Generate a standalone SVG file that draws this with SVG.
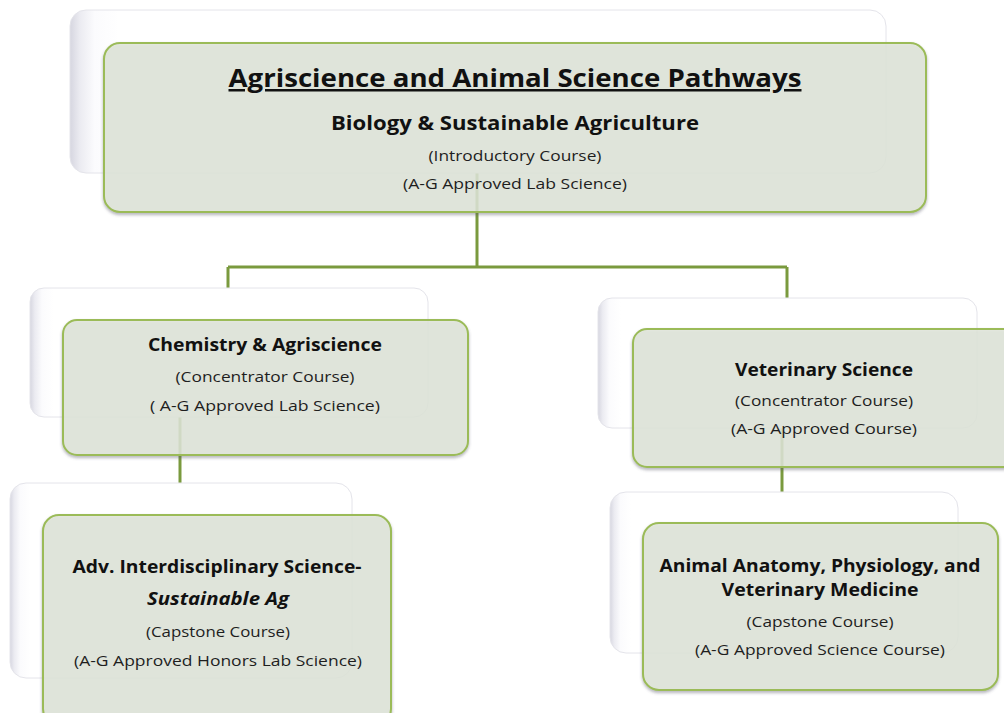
<svg xmlns="http://www.w3.org/2000/svg" width="1004" height="713" viewBox="0 0 1004 713">
<style>
text{font-family:"Open Sans","Noto Sans","DejaVu Sans",sans-serif;fill:#111;text-anchor:middle}
.t{font-weight:bold;font-size:25px;text-decoration:underline}
.h{font-weight:bold;font-size:19px}
.h2{font-weight:bold;font-size:17px}
.s{font-size:14px;fill:#1e1e1e}
.back{fill:url(#bg);stroke:#e4e4ea;stroke-width:1}
.front{fill:#e2e8dc;fill-opacity:0.82;stroke:#9bbb59;stroke-width:2;filter:url(#sh)}
.conn{stroke:#7a9a3e;stroke-width:3;fill:none}
</style>
<defs>
<linearGradient id="bg" x1="0" y1="0" x2="1" y2="0">
<stop offset="0" stop-color="#d6d6e0"/>
<stop offset="0.012" stop-color="#ebebf1"/>
<stop offset="0.03" stop-color="#fbfbfd"/>
<stop offset="0.06" stop-color="#ffffff"/>
<stop offset="1" stop-color="#ffffff"/>
</linearGradient>
<filter id="sh" x="-5%" y="-5%" width="110%" height="115%">
<feDropShadow dx="0" dy="2" stdDeviation="1.5" flood-color="#556" flood-opacity="0.45"/>
</filter>
</defs>
<g id="connectors">
<path class="conn" d="M477 150 V267 M228 267 H787 M228 267 V321 M787 267 V330"/>
<path class="conn" d="M180 400 V515"/>
<path class="conn" d="M782 420 V525"/>
</g>
<g id="node-top">
<rect class="back" x="70" y="10" width="816" height="163" rx="16"/>
<rect class="front" x="104" y="43" width="822" height="169" rx="16"/>
<text class="t" x="515" y="87" textLength="573" lengthAdjust="spacingAndGlyphs">Agriscience and Animal Science Pathways</text>
<text class="h" x="515" y="130" textLength="368" lengthAdjust="spacingAndGlyphs">Biology &amp; Sustainable Agriculture</text>
<text class="s" x="515" y="161" textLength="173" lengthAdjust="spacingAndGlyphs">(Introductory Course)</text>
<text class="s" x="515" y="189" textLength="224" lengthAdjust="spacingAndGlyphs">(A-G Approved Lab Science)</text>
</g>
<g id="node-chem">
<rect class="back" x="30" y="288" width="398" height="129" rx="14"/>
<rect class="front" x="63" y="320" width="405" height="135" rx="14"/>
<text class="h2" x="265" y="351" textLength="234" lengthAdjust="spacingAndGlyphs">Chemistry &amp; Agriscience</text>
<text class="s" x="265" y="382" textLength="179" lengthAdjust="spacingAndGlyphs">(Concentrator Course)</text>
<text class="s" x="265" y="411" textLength="230" lengthAdjust="spacingAndGlyphs">( A-G Approved Lab Science)</text>
</g>
<g id="node-vet">
<rect class="back" x="598" y="298" width="379" height="130" rx="14"/>
<rect class="front" x="633" y="329" width="385" height="138" rx="14"/>
<text class="h2" x="824" y="376" textLength="178" lengthAdjust="spacingAndGlyphs">Veterinary Science</text>
<text class="s" x="824" y="406" textLength="178" lengthAdjust="spacingAndGlyphs">(Concentrator Course)</text>
<text class="s" x="824" y="434" textLength="186" lengthAdjust="spacingAndGlyphs">(A-G Approved Course)</text>
</g>
<g id="node-adv">
<rect class="back" x="10" y="483" width="342" height="195" rx="16"/>
<rect class="front" x="43" y="515" width="348" height="210" rx="16"/>
<text class="h2" x="217" y="573" textLength="289" lengthAdjust="spacingAndGlyphs">Adv. Interdisciplinary Science-</text>
<text class="h2" x="218" y="605" font-style="italic" textLength="142" lengthAdjust="spacingAndGlyphs">Sustainable Ag</text>
<text class="s" x="218" y="637" textLength="144" lengthAdjust="spacingAndGlyphs">(Capstone Course)</text>
<text class="s" x="218" y="666" textLength="288" lengthAdjust="spacingAndGlyphs">(A-G Approved Honors Lab Science)</text>
</g>
<g id="node-animal">
<rect class="back" x="610" y="492" width="348" height="161" rx="16"/>
<rect class="front" x="643" y="523" width="355" height="167" rx="16"/>
<text class="h2" x="820" y="572" textLength="321" lengthAdjust="spacingAndGlyphs">Animal Anatomy, Physiology, and</text>
<text class="h2" x="820" y="596" textLength="197" lengthAdjust="spacingAndGlyphs">Veterinary Medicine</text>
<text class="s" x="820" y="627" textLength="147" lengthAdjust="spacingAndGlyphs">(Capstone Course)</text>
<text class="s" x="820" y="655" textLength="250" lengthAdjust="spacingAndGlyphs">(A-G Approved Science Course)</text>
</g>
</svg>
